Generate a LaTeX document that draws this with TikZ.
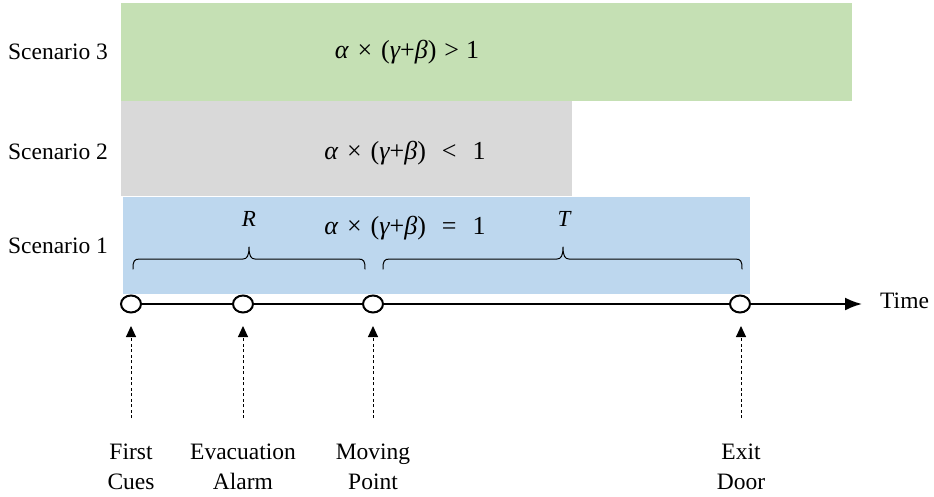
\documentclass[tikz,border=0pt]{standalone}
\usepackage{fontspec}
\setmainfont{Liberation Serif}
\usetikzlibrary{shapes.geometric,arrows.meta}
\definecolor{cgreen}{HTML}{C5E0B4}
\definecolor{cgray}{HTML}{D9D9D9}
\definecolor{cblue}{HTML}{BDD7EE}
\newcommand{\frm}[1]{{\itshape α}\hspace{9pt}×\hspace{9pt}({\itshape γ}+{\itshape β})#1}
\tikzset{
  txt/.style={font=\fontsize{23.5}{30}\selectfont, inner sep=0pt, align=center},
  ftxt/.style={font=\fontsize{26}{30}\selectfont, inner sep=0pt},
  dot/.style={ellipse, draw=black, line width=2pt, fill=white, minimum width=20pt, minimum height=17pt, inner sep=0pt},
  axis/.style={line width=2pt, -{Latex[length=17pt,width=13pt]}},
  cue/.style={line width=1pt, dash pattern=on 3pt off 2.5pt, -{Triangle[length=11pt,width=10pt]}},
  bracepath/.style={line width=1pt, line cap=round, line join=round}
}
\begin{document}
\begin{tikzpicture}[x=1pt,y=-1pt]
\useasboundingbox (0,0) rectangle (934,496);
% bands
\fill[cgreen] (121,3) rectangle (852,101);
\fill[cgray] (121,101) rectangle (572,196);
\fill[cblue] (123,197) rectangle (750,294);
% scenario labels
\node[txt] (s3) at (58,52) {Scenario 3};
\node[txt] (s2) at (58,152) {Scenario 2};
\node[txt] (s1) at (58,246) {Scenario 1};
% formulas
\node[ftxt] (f3) at (407,52) {\frm{\hspace{8pt}>\hspace{7pt}1}};
\node[ftxt] (f2) at (405,153) {\frm{\hspace{16pt}<\hspace{16pt}1}};
\node[ftxt] (f1) at (405,228) {\frm{\hspace{16pt}=\hspace{16pt}1}};
% timeline points
\node[dot] (p1) at (131,304) {};
\node[dot] (p2) at (243,304) {};
\node[dot] (p3) at (373,304) {};
\node[dot] (p4) at (740,304) {};
\coordinate (tend) at (862,304);
\draw[axis] (p1) -- (p2) -- (p3) -- (p4) -- (tend);
\node[txt, anchor=west] (time) at (880,301) {Time};
% braces
\draw[bracepath] (133,269) .. controls (133,261) and (134,259) .. (140,259)
  -- (243,259) .. controls (247,259) and (249,256) .. (249,247)
  .. controls (249,256) and (251,259) .. (255,259)
  -- (358,259) .. controls (364,259) and (365,261) .. (365,269);
\draw[bracepath] (383,269) .. controls (383,261) and (384,259) .. (390,259)
  -- (557,259) .. controls (561,259) and (563,256) .. (563,247)
  .. controls (563,256) and (565,259) .. (569,259)
  -- (735,259) .. controls (741,259) and (742,261) .. (742,269);
\node[txt, font=\fontsize{23}{30}\selectfont\itshape] (R) at (249,219) {R};
\node[txt, font=\fontsize{23}{30}\selectfont\itshape] (T) at (564,219) {T};
% cue labels
\node[txt] (l1) at (131,467) {First\\Cues};
\node[txt] (l2) at (243,467) {Evacuation\\Alarm};
\node[txt] (l3) at (373,467) {Moving\\Point};
\node[txt] (l4) at (741,467) {Exit\\Door};
\coordinate (a1) at (131,418);
\coordinate (a2) at (243,418);
\coordinate (a3) at (373,418);
\coordinate (a4) at (741,418);
\coordinate (b1) at (131,326);
\coordinate (b2) at (243,326);
\coordinate (b3) at (373,326);
\coordinate (b4) at (741,326);
\draw[cue] (a1) -- (b1);
\draw[cue] (a2) -- (b2);
\draw[cue] (a3) -- (b3);
\draw[cue] (a4) -- (b4);
\end{tikzpicture}
\end{document}
